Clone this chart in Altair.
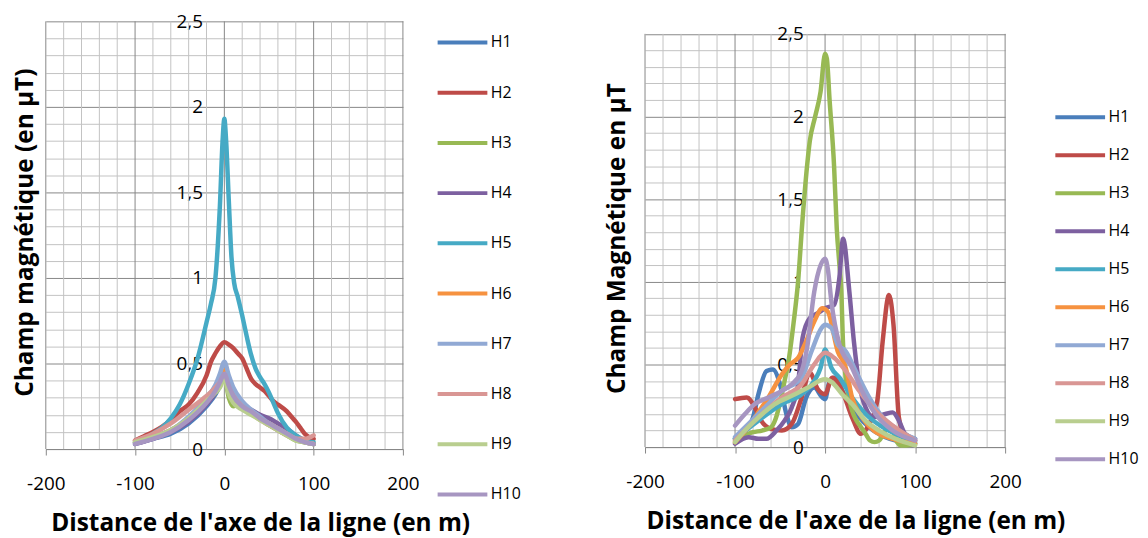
import altair as alt
import pandas as pd

SERIES = ["H1", "H2", "H3", "H4", "H5", "H6", "H7", "H8", "H9", "H10"]
COLORS = ["#4A7EBB", "#BE4B48", "#98B954", "#7D60A0", "#46AAC5",
          "#F69240", "#91A9D4", "#D99694", "#B9CE8F", "#A796C1"]

# ---------------- left chart ----------------
L_H1_X = [-100, -80, -60, -40, -20, -10, -5, 0, 5, 10, 20, 30, 40, 50, 60, 70, 80, 90, 100]
L_H1_Y = [0.03, 0.06, 0.09, 0.15, 0.25, 0.32, 0.37, 0.44, 0.37, 0.31, 0.26, 0.22, 0.19, 0.15, 0.12, 0.09, 0.06, 0.04, 0.03]
L_H2_X = [-100, -90, -80, -70, -60, -50, -40, -30, -20, -15, -10, -5, 0, 5, 10, 15, 20, 25, 30, 35, 40, 45, 50, 55, 60, 70, 75, 80, 85, 90, 95, 100]
L_H2_Y = [0.05, 0.075, 0.10, 0.13, 0.17, 0.22, 0.26, 0.33, 0.43, 0.51, 0.56, 0.60, 0.625, 0.61, 0.59, 0.56, 0.53, 0.47, 0.41, 0.38, 0.36, 0.34, 0.31, 0.28, 0.26, 0.22, 0.19, 0.16, 0.125, 0.09, 0.07, 0.06]
L_H3_X = [-100, -80, -60, -40, -20, -10, -5, 0, 5, 10, 15, 20, 30, 40, 50, 60, 70, 80, 90, 100]
L_H3_Y = [0.04, 0.07, 0.11, 0.17, 0.27, 0.33, 0.37, 0.42, 0.30, 0.25, 0.26, 0.24, 0.21, 0.18, 0.14, 0.11, 0.08, 0.05, 0.04, 0.03]
L_H4_X = [-100, -80, -60, -40, -20, -10, -5, 0, 5, 10, 20, 30, 40, 50, 60, 70, 80, 90, 100]
L_H4_Y = [0.03, 0.06, 0.10, 0.16, 0.26, 0.33, 0.38, 0.45, 0.38, 0.32, 0.26, 0.23, 0.20, 0.18, 0.15, 0.12, 0.08, 0.05, 0.03]
L_H5_X = [-100, -90, -80, -70, -60, -50, -40, -30, -20, -15, -10, -5, -2, 0, 2, 5, 8, 11, 15, 20, 25, 30, 35, 40, 45, 50, 55, 60, 70, 80, 90, 100]
L_H5_Y = [0.04, 0.06, 0.09, 0.125, 0.18, 0.26, 0.38, 0.53, 0.74, 0.85, 1.0, 1.42, 1.80, 1.93, 1.80, 1.45, 1.12, 0.97, 0.89, 0.78, 0.66, 0.55, 0.47, 0.42, 0.38, 0.33, 0.27, 0.21, 0.125, 0.08, 0.05, 0.04]
L_H6_X = [-100, -80, -60, -40, -20, -10, -5, 0, 5, 10, 20, 30, 40, 50, 60, 70, 80, 90, 100]
L_H6_Y = [0.04, 0.07, 0.11, 0.18, 0.28, 0.35, 0.40, 0.46, 0.35, 0.29, 0.25, 0.22, 0.18, 0.15, 0.12, 0.09, 0.06, 0.04, 0.03]
L_H7_X = [-100, -80, -60, -40, -20, -10, -5, 0, 5, 10, 20, 30, 40, 50, 60, 70, 80, 90, 100]
L_H7_Y = [0.04, 0.07, 0.11, 0.19, 0.30, 0.375, 0.44, 0.51, 0.43, 0.36, 0.28, 0.23, 0.19, 0.15, 0.12, 0.09, 0.06, 0.04, 0.03]
L_H8_X = [-100, -80, -60, -40, -20, -10, -5, 0, 5, 10, 20, 30, 40, 50, 60, 70, 80, 90, 100]
L_H8_Y = [0.05, 0.09, 0.15, 0.23, 0.31, 0.36, 0.39, 0.43, 0.36, 0.31, 0.25, 0.21, 0.17, 0.14, 0.11, 0.08, 0.06, 0.06, 0.08]
L_H9_X = [-100, -80, -60, -40, -20, -10, -5, 0, 5, 10, 20, 30, 40, 50, 60, 70, 80, 90, 100]
L_H9_Y = [0.04, 0.07, 0.11, 0.18, 0.28, 0.33, 0.36, 0.41, 0.32, 0.27, 0.23, 0.20, 0.17, 0.14, 0.11, 0.08, 0.05, 0.04, 0.03]
L_H10_X = [-100, -80, -60, -40, -20, -10, -5, 0, 5, 10, 20, 30, 40, 50, 60, 70, 80, 90, 100]
L_H10_Y = [0.03, 0.06, 0.10, 0.17, 0.27, 0.34, 0.39, 0.44, 0.37, 0.31, 0.25, 0.22, 0.18, 0.15, 0.12, 0.09, 0.06, 0.04, 0.03]

# ---------------- right chart ----------------
R_H1_X = [-100, -90, -80, -74, -65, -58, -50, -43, -37, -30, -21, -12, -3, 0, 5, 10, 23, 38, 49, 67, 100]
R_H1_Y = [0.05, 0.09, 0.18, 0.32, 0.46, 0.47, 0.38, 0.20, 0.12, 0.14, 0.30, 0.36, 0.30, 0.29, 0.40, 0.42, 0.30, 0.18, 0.12, 0.06, 0.02]
R_H2_X = [-100, -87, -78, -71, -60, -48, -37, -26, -17, -8, 0, 8, 19, 30, 40, 49, 58, 64, 71, 76, 82, 89, 100]
R_H2_Y = [0.29, 0.30, 0.24, 0.16, 0.11, 0.10, 0.14, 0.30, 0.45, 0.35, 0.32, 0.42, 0.34, 0.18, 0.08, 0.14, 0.28, 0.64, 0.92, 0.74, 0.18, 0.06, 0.04]
R_H3_X = [-100, -90, -80, -70, -60, -55, -50, -45, -40, -35, -30, -25, -20, -17, -11, -5, 0, 2, 5, 10, 13, 16, 18, 20, 25, 30, 35, 40, 45, 50, 55, 60, 65, 70, 75, 80, 85, 90, 100]
R_H3_Y = [0.05, 0.07, 0.09, 0.10, 0.12, 0.17, 0.27, 0.40, 0.54, 0.75, 1.0, 1.38, 1.70, 1.85, 2.0, 2.15, 2.38, 2.35, 2.10, 1.70, 1.32, 1.10, 0.95, 0.62, 0.34, 0.22, 0.16, 0.12, 0.08, 0.04, 0.03, 0.04, 0.08, 0.12, 0.10, 0.03, 0.01, 0.01, 0.02]
R_H4_X = [-100, -85, -74, -65, -54, -45, -37, -30, -25, -17, -8, 0, 10, 16, 20, 27, 32, 38, 45, 54, 67, 75, 82, 89, 100]
R_H4_Y = [0.02, 0.06, 0.05, 0.05, 0.10, 0.16, 0.24, 0.38, 0.66, 0.78, 0.81, 0.84, 0.86, 1.03, 1.26, 0.94, 0.64, 0.38, 0.24, 0.18, 0.20, 0.21, 0.16, 0.08, 0.05]
R_H5_X = [-100, -74, -48, -26, -12, -5, 0, 7, 16, 30, 45, 64, 86, 100]
R_H5_Y = [0.05, 0.16, 0.26, 0.32, 0.40, 0.48, 0.59, 0.48, 0.42, 0.30, 0.20, 0.12, 0.06, 0.03]
R_H6_X = [-100, -90, -78, -63, -48, -39, -30, -21, -12, -3, 3, 14, 23, 30, 41, 54, 75, 100]
R_H6_Y = [0.03, 0.09, 0.18, 0.30, 0.44, 0.50, 0.54, 0.64, 0.76, 0.84, 0.82, 0.58, 0.48, 0.30, 0.18, 0.10, 0.05, 0.02]
R_H7_X = [-100, -74, -48, -26, -15, -4, 0, 7, 14, 23, 34, 49, 64, 82, 100]
R_H7_Y = [0.06, 0.20, 0.34, 0.42, 0.58, 0.72, 0.74, 0.72, 0.62, 0.58, 0.46, 0.30, 0.18, 0.10, 0.05]
R_H8_X = [-100, -74, -48, -26, -12, 0, 10, 23, 38, 56, 75, 100]
R_H8_Y = [0.04, 0.18, 0.30, 0.38, 0.50, 0.57, 0.54, 0.46, 0.34, 0.22, 0.13, 0.04]
R_H9_X = [-100, -89, -74, -56, -37, -19, 0, 8, 19, 30, 45, 60, 78, 100]
R_H9_Y = [0.03, 0.10, 0.18, 0.26, 0.31, 0.36, 0.41, 0.39, 0.32, 0.26, 0.16, 0.10, 0.05, 0.01]
R_H10_X = [-100, -89, -78, -63, -48, -37, -26, -20, -12, -5, 0, 3, 7, 16, 30, 41, 56, 75, 100]
R_H10_Y = [0.13, 0.20, 0.26, 0.30, 0.34, 0.38, 0.46, 0.60, 0.94, 1.10, 1.14, 1.08, 0.88, 0.62, 0.48, 0.34, 0.20, 0.10, 0.04]

LEFT = [(L_H1_X, L_H1_Y), (L_H2_X, L_H2_Y), (L_H3_X, L_H3_Y), (L_H4_X, L_H4_Y), (L_H5_X, L_H5_Y),
        (L_H6_X, L_H6_Y), (L_H7_X, L_H7_Y), (L_H8_X, L_H8_Y), (L_H9_X, L_H9_Y), (L_H10_X, L_H10_Y)]
RIGHT = [(R_H1_X, R_H1_Y), (R_H2_X, R_H2_Y), (R_H3_X, R_H3_Y), (R_H4_X, R_H4_Y), (R_H5_X, R_H5_Y),
         (R_H6_X, R_H6_Y), (R_H7_X, R_H7_Y), (R_H8_X, R_H8_Y), (R_H9_X, R_H9_Y), (R_H10_X, R_H10_Y)]

X_TICKS = list(range(-200, 201, 20))
Y_TICKS = [i / 10 for i in range(26)]
Y_MAX = 2.5

FONT = "Open Sans"
MAJOR = "#878787"
MINOR = "#c3c3c3"


def frame(pairs):
    rows = []
    for name, (xs, ys) in zip(SERIES, pairs):
        for xv, yv in zip(xs, ys):
            rows.append({"serie": name, "x": xv, "y": yv})
    return pd.DataFrame(rows)


def panel(pairs, w, h, top_pad, ytitle, title_dx, title_dy, xtitle_dx, lx, ly, rowpad):
    # plot frame reaches y = Y_MAX; extra room above keeps the frame lower on the page
    ydom = Y_MAX * h / (h - top_pad)
    x_axis = alt.Axis(
        values=X_TICKS, title="Distance de l'axe de la ligne (en m)", grid=False,
        labelExpr="datum.value % 100 === 0 ? '' + datum.value : ''",
        tickOpacity={"condition": {"test": "datum.value % 100 === 0", "value": 1}, "value": 0},
        tickColor=MAJOR, tickSize=6, domainColor=MAJOR, labelPadding=20, titlePadding=18,
        labelFlush=False, labelOverlap=False, titleX=w / 2 + xtitle_dx,
    )
    y_axis = alt.Axis(
        values=Y_TICKS, title=ytitle, offset=-w / 2, domain=False, grid=True,
        labelExpr="abs(round(datum.value * 10)) % 5 === 0 ? replace(format(datum.value, '.1~f'), '.', ',') : ''",
        gridColor={"condition": {"test": "abs(round(datum.value * 10)) % 5 === 0", "value": MAJOR}, "value": MINOR},
        ticks=False, labelPadding=22, labelOverlap=False, labelFlush=False,
        titleX=-w / 2 + title_dx, titleY=title_dy, titleAngle=-90, titleAlign="center",
        titleBaseline="middle",
    )
    legend = alt.Legend(
        orient="none", legendX=lx, legendY=ly, title=None, symbolType="M-2,0H2",
        symbolSize=625, symbolStrokeWidth=4, rowPadding=rowpad, labelFontSize=16,
        labelFont=FONT, labelColor="#000", labelOffset=14, padding=0,
    )
    xs = alt.Scale(domain=[-200, 200], nice=False)
    ys = alt.Scale(domain=[0, ydom], nice=False)

    grid = alt.Chart(pd.DataFrame({"x": X_TICKS, "y0": 0.0, "y1": Y_MAX})).mark_rule(strokeWidth=1).encode(
        x=alt.X("x:Q", scale=xs, axis=x_axis),
        y=alt.Y("y0:Q", scale=ys, axis=y_axis),
        y2="y1:Q",
        color=alt.condition("datum.x % 100 === 0", alt.value(MAJOR), alt.value(MINOR)),
    )
    lines = alt.Chart(frame(pairs)).mark_line(
        strokeWidth=4.5, interpolate="monotone", strokeCap="round", strokeJoin="round"
    ).encode(
        x=alt.X("x:Q", scale=xs, axis=x_axis),
        y=alt.Y("y:Q", scale=ys, axis=y_axis),
        color=alt.Color("serie:N", scale=alt.Scale(domain=SERIES, range=COLORS), legend=legend),
        order=alt.Order("x:Q"),
    )
    return alt.layer(grid, lines).properties(width=w, height=h)


left = panel(LEFT, 359, 430, 0, "Champ magnétique (en μT)", -20, 212, 36, 404.4, 6.7, 27.5)
right = panel(RIGHT, 362, 428, 12.6, "Champ Magnétique en μT", -28, 218, 30.5, 423, 81.9, 15.2)

chart = alt.hconcat(left, right, spacing=81.4).resolve_scale(color="independent").properties(
    padding={"left": 4, "top": 3, "right": 0, "bottom": 0}
).configure_view(stroke=None).configure_axis(
    labelFont=FONT, labelFontSize=19, labelColor="#000",
    titleFont=FONT, titleFontSize=24.5, titleFontWeight="bold", titleColor="#000",
)

chart.save("out.html", embed_options={"renderer": "svg", "actions": False})
